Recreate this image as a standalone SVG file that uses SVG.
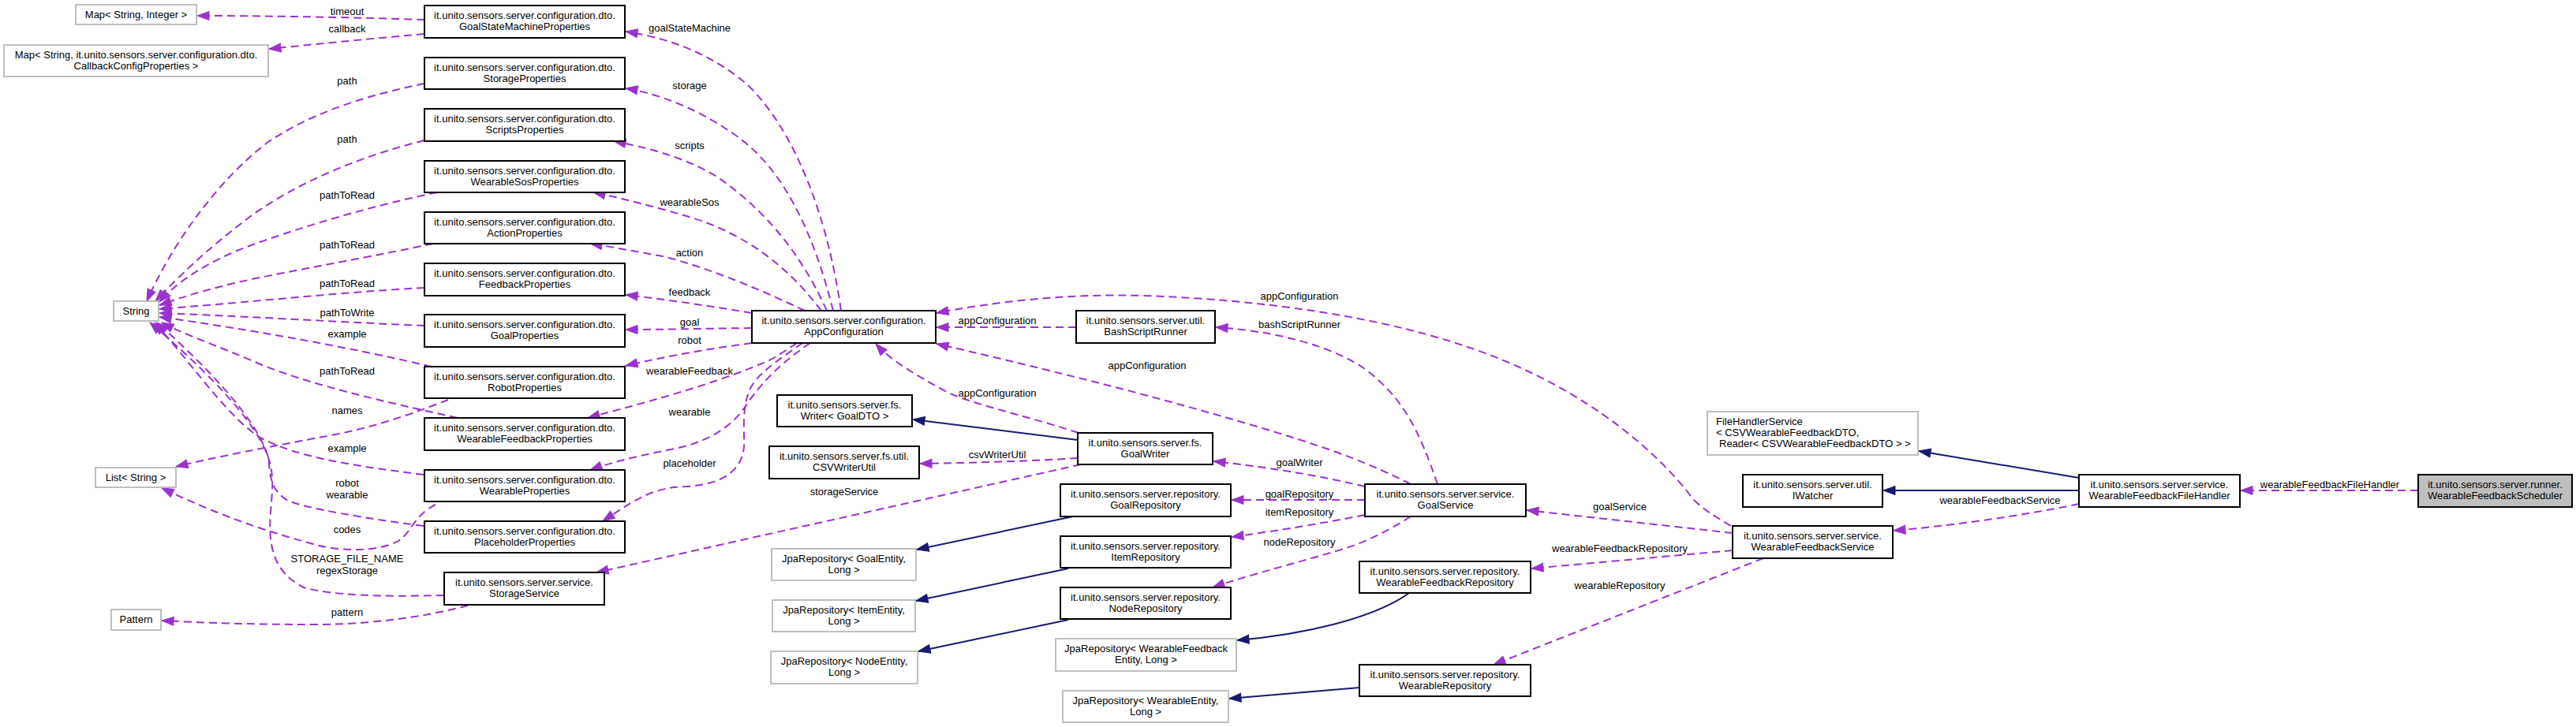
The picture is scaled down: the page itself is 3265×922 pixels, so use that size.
<svg xmlns="http://www.w3.org/2000/svg" width="3265" height="922" viewBox="0 0 3265 922">
<style>
text{font-family:"Liberation Sans",Arial,sans-serif;font-size:13px;fill:#000}
.n rect{fill:#fff;stroke:#000;stroke-width:2}
.g rect{fill:#fff;stroke:#bfbfbf;stroke-width:2}
.sel rect{fill:#bfbfbf;stroke:#000;stroke-width:2}
.n text,.g text,.sel text{text-anchor:middle}
.lbl{text-anchor:middle}
.d path{fill:none;stroke:#9a32cd;stroke-width:2;stroke-dasharray:10,6;marker-end:url(#ap)}
.s path{fill:none;stroke:#191970;stroke-width:2;marker-end:url(#an)}
</style>
<defs>
<marker id="ap" markerUnits="userSpaceOnUse" markerWidth="16" markerHeight="12" viewBox="0 0 16 12" refX="15" refY="6" orient="auto" overflow="visible"><path d="M0,0.5 L15,6 L0,11.5 z" fill="#9a32cd" stroke="#9a32cd" stroke-width="1"/></marker>
<marker id="an" markerUnits="userSpaceOnUse" markerWidth="16" markerHeight="12" viewBox="0 0 16 12" refX="15" refY="6" orient="auto" overflow="visible"><path d="M0,0.5 L15,6 L0,11.5 z" fill="#191970" stroke="#191970" stroke-width="1"/></marker>
</defs>
<rect x="0" y="0" width="3265" height="922" fill="#fff"/>

<g id="connectors">
<g class="d">
<path d="M538,25 C450,22 340,20 250,20"/>
<path d="M538,43 C460,50 400,56 341,62"/>
<path d="M538,106 C470,120 400,140 340,180 C280,225 220,305 186,382"/>
<path d="M538,178 C450,200 370,235 314,277 C260,318 225,352 197,382"/>
<path d="M554,244 C460,263 350,298 300,318 C250,340 220,362 202,383"/>
<path d="M549,309 C450,330 330,350 285,362 C245,372 222,380 202,387"/>
<path d="M538,365 C440,370 330,382 202,392"/>
<path d="M538,413 C440,409 330,402 202,397"/>
<path d="M547,465 C450,442 320,418 202,402"/>
<path d="M580,530 C490,510 400,490 330,462 C280,440 235,425 205,409"/>
<path d="M537,602 C460,592 380,582 330,555 C290,530 250,470 196,409"/>
<path d="M537,667 C460,657 390,645 365,635 C340,620 343,600 340,580 C330,545 290,490 199,409"/>
<path d="M563,755 C480,757 420,755 385,745 C345,725 340,690 343,650 C346,610 350,590 325,550 C300,510 250,460 190,409"/>
<path d="M568,507 C530,522 480,540 430,550 C340,567 270,580 223,592"/>
<path d="M552,640 C525,653 522,675 505,686 C480,700 430,700 397,690 C330,672 270,650 205,619"/>
<path d="M593,768 C540,782 470,792 400,792 C320,792 260,790 205,787"/>
<path d="M1066,394 C1050,280 1010,170 950,110 C900,65 840,47 793,40"/>
<path d="M1056,394 C1030,290 990,210 930,170 C880,135 830,118 793,112"/>
<path d="M1048,394 C1010,310 960,260 910,225 C870,200 820,187 778,179"/>
<path d="M1041,394 C1000,340 950,300 880,277 C830,262 790,252 752,244"/>
<path d="M1020,394 C970,370 900,340 840,325 C800,318 770,312 748,309"/>
<path d="M953,397 C880,385 830,378 793,374"/>
<path d="M953,416 C880,417 830,418 793,418"/>
<path d="M953,435 C880,445 830,455 793,464"/>
<path d="M1010,435 C995,445 985,452 975,457 C900,490 800,515 745,530"/>
<path d="M1027,435 C990,460 965,485 945,515 C925,545 890,563 850,570 C800,580 770,588 748,596"/>
<path d="M1017,435 C990,455 955,475 948,500 C940,525 944,550 943,567 C940,600 910,615 870,617 C830,618 810,630 764,661"/>
<path d="M1370,589 L756,726"/>
<path d="M1367,549 C1300,527 1230,512 1200,497 C1160,475 1130,458 1110,436"/>
<path d="M1366,581 C1300,585 1230,587 1166,588"/>
<path d="M1364,415 L1187,415"/>
<path d="M1788,614 C1740,590 1700,573 1600,543 C1450,498 1300,462 1187,436"/>
<path d="M1822,614 C1800,550 1780,505 1730,468 C1690,440 1620,420 1541,415"/>
<path d="M2194,667 C2165,650 2150,640 2140,625 C2080,550 1980,480 1860,440 C1750,402 1600,380 1450,375 C1350,372 1260,383 1187,397"/>
<path d="M1730,617 C1680,605 1620,594 1538,585"/>
<path d="M1730,634 L1561,634"/>
<path d="M1730,653 C1680,663 1620,673 1561,681"/>
<path d="M1788,655 C1760,673 1730,688 1700,697 C1640,715 1580,730 1537,745"/>
<path d="M2196,676 L1935,647"/>
<path d="M2196,698 L1941,721"/>
<path d="M2235,708 L1893,843"/>
<path d="M2635,639 C2560,655 2460,668 2400,673"/>
<path d="M3065,622 L2840,622"/>
</g>
<g class="s">
<path d="M1366,558 L1157,532"/>
<path d="M1360,655 L1162,697"/>
<path d="M1354,721 L1161,762"/>
<path d="M1354,786 L1164,826"/>
<path d="M1786,752 C1740,785 1650,805 1568,812"/>
<path d="M1723,872 L1558,886"/>
<path d="M2635,606 L2432,572"/>
<path d="M2635,622 L2387,622"/>
</g>
<g id="edge-labels">
<text class="lbl" x="440" y="19">timeout</text>
<text class="lbl" x="440" y="41">callback</text>
<text class="lbl" x="440" y="107">path</text>
<text class="lbl" x="440" y="181">path</text>
<text class="lbl" x="440" y="252">pathToRead</text>
<text class="lbl" x="440" y="315">pathToRead</text>
<text class="lbl" x="440" y="364">pathToRead</text>
<text class="lbl" x="440" y="401">pathToWrite</text>
<text class="lbl" x="440" y="428">example</text>
<text class="lbl" x="440" y="475">pathToRead</text>
<text class="lbl" x="440" y="525">names</text>
<text class="lbl" x="440" y="573">example</text>
<text class="lbl" x="440" y="617">robot</text>
<text class="lbl" x="440" y="632">wearable</text>
<text class="lbl" x="440" y="676">codes</text>
<text class="lbl" x="440" y="713">STORAGE_FILE_NAME</text>
<text class="lbl" x="440" y="728">regexStorage</text>
<text class="lbl" x="440" y="781">pattern</text>
<text class="lbl" x="874" y="40">goalStateMachine</text>
<text class="lbl" x="874" y="113">storage</text>
<text class="lbl" x="874" y="189">scripts</text>
<text class="lbl" x="874" y="261">wearableSos</text>
<text class="lbl" x="874" y="325">action</text>
<text class="lbl" x="874" y="375">feedback</text>
<text class="lbl" x="874" y="413">goal</text>
<text class="lbl" x="874" y="436">robot</text>
<text class="lbl" x="874" y="475">wearableFeedback</text>
<text class="lbl" x="874" y="527">wearable</text>
<text class="lbl" x="874" y="592">placeholder</text>
<text class="lbl" x="1070" y="628">storageService</text>
<text class="lbl" x="1264" y="411">appConfiguration</text>
<text class="lbl" x="1454" y="468">appConfiguration</text>
<text class="lbl" x="1264" y="503">appConfiguration</text>
<text class="lbl" x="1264" y="581">csvWriterUtil</text>
<text class="lbl" x="1647" y="380">appConfiguration</text>
<text class="lbl" x="1647" y="416">bashScriptRunner</text>
<text class="lbl" x="1647" y="591">goalWriter</text>
<text class="lbl" x="1647" y="631">goalRepository</text>
<text class="lbl" x="1647" y="654">itemRepository</text>
<text class="lbl" x="1647" y="692">nodeRepository</text>
<text class="lbl" x="2053" y="647">goalService</text>
<text class="lbl" x="2053" y="700">wearableFeedbackRepository</text>
<text class="lbl" x="2053" y="747">wearableRepository</text>
<text class="lbl" x="2535" y="639">wearableFeedbackService</text>
<text class="lbl" x="2953" y="619">wearableFeedbackFileHandler</text>
</g>
</g>

<g id="n-map-string-integer" class="g"><rect x="96" y="6" width="153" height="25"/><text x="172.5" y="23">Map&lt; String, Integer &gt;</text></g>
<g id="n-map-callback" class="g"><rect x="5" y="57" width="335" height="40"/><text x="172.5" y="74">Map&lt; String, it.unito.sensors.server.configuration.dto.</text><text x="172.5" y="88">CallbackConfigProperties &gt;</text></g>
<g id="n-goalstatemachine" class="n"><rect x="538" y="7" width="254" height="41"/><text x="665" y="24">it.unito.sensors.server.configuration.dto.</text><text x="665" y="38">GoalStateMachineProperties</text></g>
<g id="n-storageprops" class="n"><rect x="538" y="73" width="254" height="40"/><text x="665" y="90">it.unito.sensors.server.configuration.dto.</text><text x="665" y="104">StorageProperties</text></g>
<g id="n-scriptsprops" class="n"><rect x="538" y="138" width="254" height="41"/><text x="665" y="155">it.unito.sensors.server.configuration.dto.</text><text x="665" y="169">ScriptsProperties</text></g>
<g id="n-wearablesos" class="n"><rect x="538" y="204" width="254" height="40"/><text x="665" y="221">it.unito.sensors.server.configuration.dto.</text><text x="665" y="235">WearableSosProperties</text></g>
<g id="n-actionprops" class="n"><rect x="538" y="269" width="254" height="40"/><text x="665" y="286">it.unito.sensors.server.configuration.dto.</text><text x="665" y="300">ActionProperties</text></g>
<g id="n-feedbackprops" class="n"><rect x="538" y="334" width="254" height="41"/><text x="665" y="351">it.unito.sensors.server.configuration.dto.</text><text x="665" y="365">FeedbackProperties</text></g>
<g id="n-goalprops" class="n"><rect x="538" y="399" width="254" height="41"/><text x="665" y="416">it.unito.sensors.server.configuration.dto.</text><text x="665" y="430">GoalProperties</text></g>
<g id="n-robotprops" class="n"><rect x="538" y="465" width="254" height="40"/><text x="665" y="482">it.unito.sensors.server.configuration.dto.</text><text x="665" y="496">RobotProperties</text></g>
<g id="n-wearablefeedbackprops" class="n"><rect x="538" y="530" width="254" height="41"/><text x="665" y="547">it.unito.sensors.server.configuration.dto.</text><text x="665" y="561">WearableFeedbackProperties</text></g>
<g id="n-wearableprops" class="n"><rect x="538" y="596" width="254" height="40"/><text x="665" y="613">it.unito.sensors.server.configuration.dto.</text><text x="665" y="627">WearableProperties</text></g>
<g id="n-placeholderprops" class="n"><rect x="538" y="661" width="254" height="40"/><text x="665" y="678">it.unito.sensors.server.configuration.dto.</text><text x="665" y="692">PlaceholderProperties</text></g>
<g id="n-storageservice" class="n"><rect x="563" y="726" width="203" height="41"/><text x="664.5" y="743">it.unito.sensors.server.service.</text><text x="664.5" y="757">StorageService</text></g>
<g id="n-string" class="g"><rect x="144" y="382" width="57" height="25"/><text x="172.5" y="399">String</text></g>
<g id="n-list-string" class="g"><rect x="121" y="593" width="102" height="25"/><text x="172" y="610">List&lt; String &gt;</text></g>
<g id="n-pattern" class="g"><rect x="141" y="773" width="63" height="26"/><text x="172.5" y="790">Pattern</text></g>
<g id="n-appconfiguration" class="n"><rect x="953" y="394" width="233" height="41"/><text x="1069.5" y="411">it.unito.sensors.server.configuration.</text><text x="1069.5" y="425">AppConfiguration</text></g>
<g id="n-bashscriptrunner" class="n"><rect x="1364" y="394" width="176" height="41"/><text x="1452" y="411">it.unito.sensors.server.util.</text><text x="1452" y="425">BashScriptRunner</text></g>
<g id="n-writer" class="n"><rect x="985" y="501" width="171" height="40"/><text x="1070.5" y="518">it.unito.sensors.server.fs.</text><text x="1070.5" y="532">Writer&lt; GoalDTO &gt;</text></g>
<g id="n-csvwriterutil" class="n"><rect x="975" y="566" width="190" height="41"/><text x="1070" y="583">it.unito.sensors.server.fs.util.</text><text x="1070" y="597">CSVWriterUtil</text></g>
<g id="n-goalwriter" class="n"><rect x="1366" y="549" width="171" height="40"/><text x="1451.5" y="566">it.unito.sensors.server.fs.</text><text x="1451.5" y="580">GoalWriter</text></g>
<g id="n-goalrepository" class="n"><rect x="1344" y="614" width="216" height="41"/><text x="1452" y="631">it.unito.sensors.server.repository.</text><text x="1452" y="645">GoalRepository</text></g>
<g id="n-itemrepository" class="n"><rect x="1344" y="680" width="216" height="40"/><text x="1452" y="697">it.unito.sensors.server.repository.</text><text x="1452" y="711">ItemRepository</text></g>
<g id="n-noderepository" class="n"><rect x="1344" y="745" width="216" height="40"/><text x="1452" y="762">it.unito.sensors.server.repository.</text><text x="1452" y="776">NodeRepository</text></g>
<g id="n-jpa-goal" class="g"><rect x="978" y="696" width="183" height="40"/><text x="1069.5" y="713">JpaRepository&lt; GoalEntity,</text><text x="1069.5" y="727">Long &gt;</text></g>
<g id="n-jpa-item" class="g"><rect x="979" y="761" width="181" height="40"/><text x="1069.5" y="778">JpaRepository&lt; ItemEntity,</text><text x="1069.5" y="792">Long &gt;</text></g>
<g id="n-jpa-node" class="g"><rect x="977" y="826" width="186" height="41"/><text x="1070" y="843">JpaRepository&lt; NodeEntity,</text><text x="1070" y="857">Long &gt;</text></g>
<g id="n-jpa-wearablefeedback" class="g"><rect x="1338" y="810" width="229" height="41"/><text x="1452.5" y="827">JpaRepository&lt; WearableFeedback</text><text x="1452.5" y="841">Entity, Long &gt;</text></g>
<g id="n-jpa-wearable" class="g"><rect x="1347" y="876" width="210" height="40"/><text x="1452" y="893">JpaRepository&lt; WearableEntity,</text><text x="1452" y="907">Long &gt;</text></g>
<g id="n-goalservice" class="n"><rect x="1730" y="614" width="204" height="41"/><text x="1832" y="631">it.unito.sensors.server.service.</text><text x="1832" y="645">GoalService</text></g>
<g id="n-wearablefeedbackrepository" class="n"><rect x="1723" y="712" width="217" height="40"/><text x="1831.5" y="729">it.unito.sensors.server.repository.</text><text x="1831.5" y="743">WearableFeedbackRepository</text></g>
<g id="n-wearablerepository" class="n"><rect x="1723" y="843" width="217" height="40"/><text x="1831.5" y="860">it.unito.sensors.server.repository.</text><text x="1831.5" y="874">WearableRepository</text></g>
<g id="n-wearablefeedbackservice" class="n"><rect x="2196" y="667" width="203" height="41"/><text x="2297.5" y="684">it.unito.sensors.server.service.</text><text x="2297.5" y="698">WearableFeedbackService</text></g>
<g id="n-iwatcher" class="n"><rect x="2209" y="602" width="177" height="41"/><text x="2297.5" y="619">it.unito.sensors.server.util.</text><text x="2297.5" y="633">IWatcher</text></g>
<g id="n-filehandlerservice" class="g"><rect x="2164" y="522" width="267" height="55"/><text x="2175" y="539" style="text-anchor:start">FileHandlerService</text><text x="2175" y="553" style="text-anchor:start">&lt; CSVWearableFeedbackDTO,</text><text x="2179" y="567" style="text-anchor:start">Reader&lt; CSVWearableFeedbackDTO &gt; &gt;</text></g>
<g id="n-wearablefeedbackfilehandler" class="n"><rect x="2635" y="602" width="204" height="41"/><text x="2737" y="619">it.unito.sensors.server.service.</text><text x="2737" y="633">WearableFeedbackFileHandler</text></g>
<g id="n-wearablefeedbackscheduler" class="sel"><rect x="3065" y="602" width="195" height="41"/><text x="3162.5" y="619">it.unito.sensors.server.runner.</text><text x="3162.5" y="633">WearableFeedbackScheduler</text></g>
</svg>
